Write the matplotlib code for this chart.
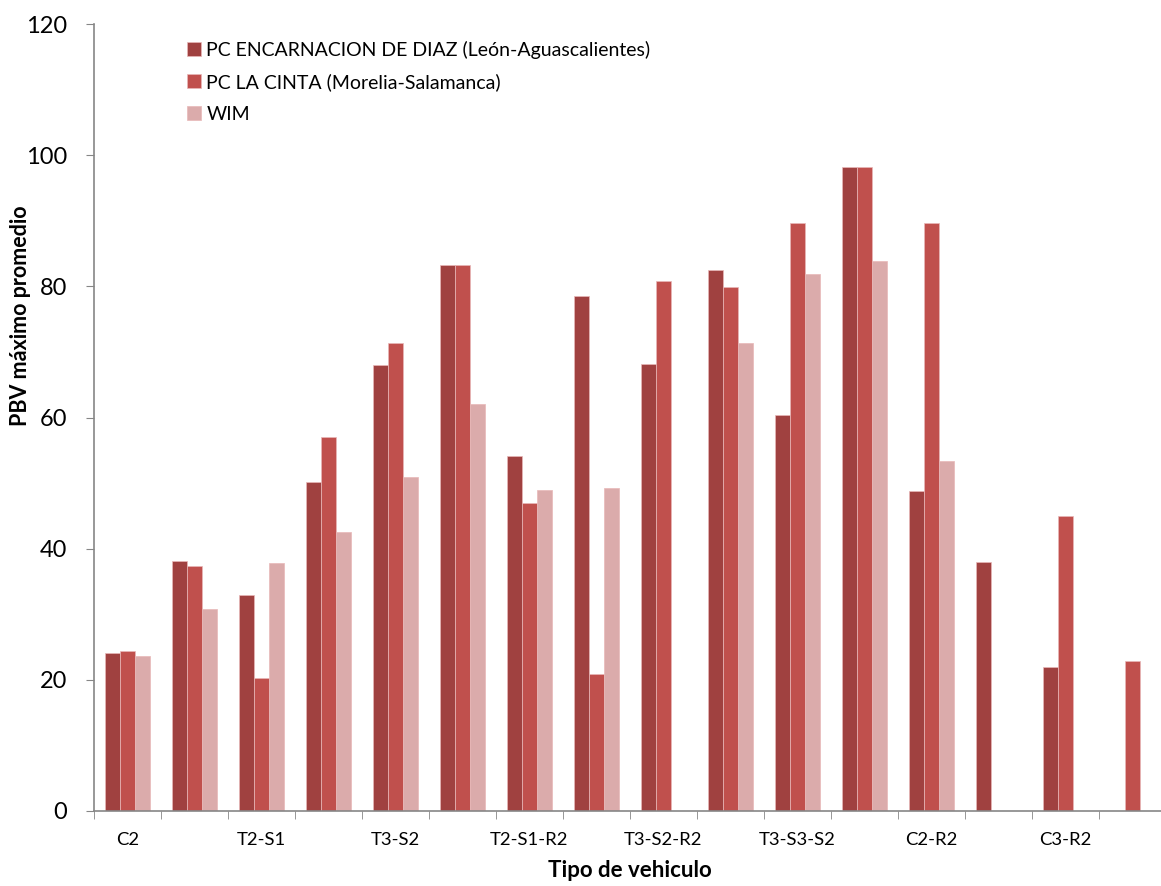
import numpy as np
import matplotlib.pyplot as plt

# shown category labels (Excel skips every second one)
shown_labels = ["C2", "T2-S1", "T3-S2", "T2-S1-R2", "T3-S2-R2", "T3-S3-S2", "C2-R2", "C3-R2"]
n_cat = 16

encarnacion = [24.1, 38.1, 32.9, 50.1, 68.0, 83.3, 54.1, 78.5, 68.2, 82.5, 60.4, 98.2, 48.8, 38.0, 22.0, np.nan]
la_cinta = [24.4, 37.4, 20.3, 57.0, 71.3, 83.3, 46.9, 20.9, 80.9, 79.9, 89.7, 98.2, 89.7, np.nan, 45.0, 22.9]
wim = [23.6, 30.8, 37.8, 42.5, 51.0, 62.0, 49.0, 49.3, np.nan, 71.4, 81.9, 83.9, 53.4, np.nan, np.nan, np.nan]

series_names = ["PC ENCARNACION DE DIAZ (León-Aguascalientes)",
                "PC LA CINTA (Morelia-Salamanca)",
                "WIM"]
colors = ["#A04140", "#C0504D", "#DBABAB"]

plt.rcParams['font.family'] = ['Lato', 'DejaVu Sans']

fig = plt.figure(figsize=(11.61, 8.86), dpi=100)
ax = fig.add_axes([0.0807, 0.0847, 0.9236, 0.888])

x = np.arange(n_cat)
w = 0.224
for k, (vals, name, c) in enumerate(zip([encarnacion, la_cinta, wim], series_names, colors)):
    ax.bar(x + (k - 1) * w, vals, width=w, color=c, label=name,
           edgecolor="#E8B8B8", linewidth=0.5)

ax.set_xlim(-0.5, n_cat - 0.5)
ax.set_ylim(0, 120)
ax.set_yticks(np.arange(0, 121, 20))
ax.tick_params(axis='y', labelsize=17, length=6, color="#868686", pad=13)

ax.set_xticks(x[::2])
ax.set_xticklabels(shown_labels)
ax.set_xticks(np.arange(-0.5, n_cat, 1), minor=True)
ax.tick_params(axis='x', which='major', length=0, labelsize=13.3, pad=15)
ax.tick_params(axis='x', which='minor', length=6, color="#868686")

for s in ["top", "right"]:
    ax.spines[s].set_visible(False)
for s in ["left", "bottom"]:
    ax.spines[s].set_color("#868686")
    ax.spines[s].set_linewidth(1.2)

ax.set_xlabel("Tipo de vehiculo", fontsize=16, fontweight="bold", labelpad=9)
ax.set_ylabel("PBV máximo promedio", fontsize=15.5, fontweight="bold")
ax.yaxis.set_label_coords(-0.058, 0.629)

fig.legend(loc="upper left", bbox_to_anchor=(0.146, 0.974), frameon=False,
           fontsize=14, handlelength=0.7, handleheight=0.7, handletextpad=0.3,
           labelspacing=0.75)

fig.savefig("out.png", dpi=100)
